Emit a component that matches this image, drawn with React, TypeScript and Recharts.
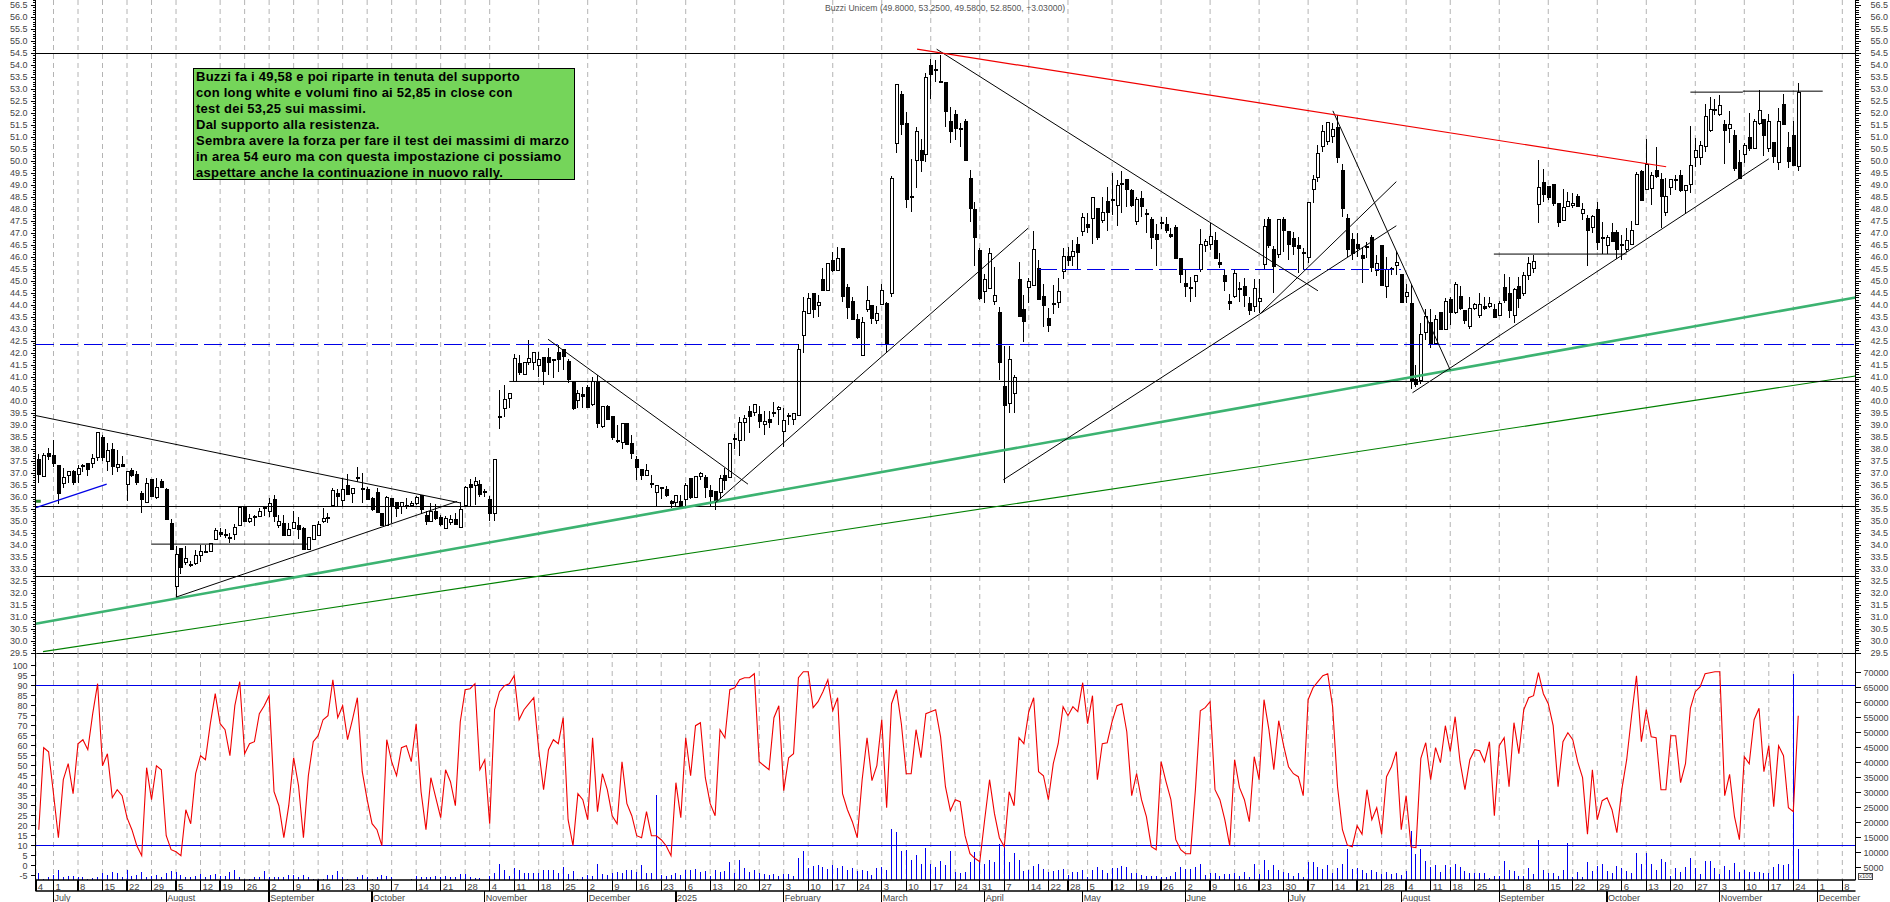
import { Bar, CartesianGrid, ComposedChart, Line, ReferenceLine, XAxis, YAxis } from "recharts";

const opens = [
  37.58,36.85,37.8,37.75,37.3,36.55,36.9,37.05,36.95,37.3,
  37.4,37.4,37.65,38.5,37.5,38,37.23,37.37,36.54,37.09,
  36.93,36.13,35.77,36.72,35.98,36.63,36.33,34.9,32.27,33.87,
  33.27,33.18,33.22,33.56,33.73,33.73,34.25,34.54,34.43,34.33,
  34.45,34.82,35.6,34.98,35.2,35.2,35.58,35.4,35.88,34.8,
  34.88,34.42,34.69,34.8,34.68,33.83,34.25,34.41,34.98,35.15,
  35.63,36.13,35.86,36.47,36.13,36.81,36.37,36.3,35.93,36.19,
  35.33,34.8,35.95,35.77,35.6,35.63,35.63,35.73,36.05,35.25,
  35,35.41,35.13,34.7,34.95,35.05,34.75,35.63,36.53,36.5,
  36.53,36.22,35.92,35.33,39.36,39.7,40.12,40.81,41.55,41.12,
  41.62,41.62,41.5,41.83,41.83,41.75,42.03,42.16,41.65,40.81,
  40.02,40.29,40.58,39.84,40.77,38.94,39.77,39.36,38.36,38.28,
  39.08,38.22,37.55,37.14,36.92,36.55,36.19,36.4,36.33,35.83,
  35.78,35.83,35.92,36.79,36,36.86,36.83,36.28,36.25,36.2,
  36.92,36.83,38.46,38.36,39.11,39.58,39.53,39.43,39.04,39.25,
  39.47,39.64,38.73,39.38,39.22,39.42,42.72,43.66,44.5,43.97,
  45.09,44.63,45.88,45.44,46.37,44.74,44.17,43.41,41.92,43.8,
  43.97,43.35,44.04,44.08,44.5,50.74,52.8,51.58,48.53,50.02,
  50.44,50.3,54,53.83,53.32,53.29,51.67,51.95,51.37,51.67,
  49.29,47.97,46.26,44.56,44.7,44.15,43.7,40.6,39.9,40.3,
  45.09,43.83,44.74,44.84,45.54,44.38,43.45,44.08,44.1,45.4,
  46.02,46.02,46.54,47.06,47.38,47.62,48.04,47.51,48.33,48.41,
  48.15,49.08,49.22,48.8,47.48,48.45,47.83,47.55,46.95,47.44,
  47.38,46.93,47.24,45.95,44.91,44.73,44.98,45.47,46.48,46.54,
  46.68,45.79,45.22,44.15,44.36,44.7,44.77,44.08,43.94,44.15,
  45.68,47.58,46.33,46.12,47.59,47.06,46.79,46.47,46.2,45.99,
  48.83,49.33,50.63,50.81,51.02,51.41,49.63,47.62,46.72,46.51,
  46.08,46.44,46.83,45.44,46.47,44.77,45.54,45.65,45.26,44.36,
  44.08,40.9,40.85,42.86,43.27,42.41,43.7,43,44.24,43.69,
  44.38,43.76,43.13,43.87,43.55,43.94,43.94,43.83,43.59,44.74,
  44.47,43.59,44.77,44.49,45.23,45.54,48.2,49.12,48.94,49.01,
  48.24,47.52,48.13,48.15,48.52,47.83,47.62,47.22,47.99,46.83,
  46.48,47.04,47.04,46.54,46.34,46.54,47.37,49.59,48.84,48.87,
  49.63,49.22,47.86,48.91,49.18,49.42,48.77,49.04,50.16,50.16,
  50.61,51.27,52.16,51.95,51.51,51.37,51.09,49.95,50.29,51,
  50.54,51.58,51.74,50.51,50.79,49.95,52.38,50.58,51.08,49.8,
];

const highs = [
  37.8,37.85,38.05,38.4,37.3,37.2,37.05,37.15,37.35,37.4,
  37.4,37.8,38.7,38.6,38.25,38.27,37.95,37.7,37.1,37.2,
  37.1,36.25,36.8,36.72,36.8,36.75,36.4,35.08,33.95,33.87,
  33.95,33.35,33.8,34,34,34.08,34.7,34.7,34.65,34.5,
  34.88,35.58,35.6,35.3,35.25,35.55,35.58,35.95,36.1,35.25,
  35.25,34.9,35.4,35.15,34.75,34.33,34.85,35,35.55,35.33,
  36.4,36.35,36.8,36.95,36.37,37.25,37,36.42,36,36.4,
  35.35,36.05,35.98,35.77,35.77,35.95,35.85,36.05,36.05,35.4,
  35.75,35.72,35.25,35.2,35.25,35.33,35.8,36.45,36.75,36.85,
  36.7,36.33,36.05,37.58,40.45,40.68,40.33,41.97,41.93,41.62,
  42.55,42.03,42.06,41.83,42.2,41.75,42.35,42.16,41.75,40.81,
  40.47,40.6,40.67,41.02,41.1,39.8,39.85,39.4,39,39.05,
  39.08,38.6,37.72,37.14,37.39,36.93,36.47,36.4,36.45,35.88,
  36.08,36.1,36.58,36.79,36.9,37.05,36.93,36.5,36.25,36.93,
  37.2,38.25,38.65,39.35,39.43,39.78,39.9,39.78,39.6,39.57,
  39.98,39.78,39.7,39.5,39.5,42.4,44.35,44.5,44.5,44.42,
  45.55,45.74,46.2,46.41,46.4,44.87,44.35,43.63,43.5,44.8,
  44,43.95,44.87,44.15,49.38,53.2,52.92,52.06,50.08,51.41,
  50.91,53.66,54.24,54.22,54.42,53.29,52.24,52.13,51.6,51.78,
  49.63,48.31,46.37,45.3,46.37,45.6,43.94,42.3,42.3,41.1,
  45.81,44.41,45.12,47.09,45.88,44.88,43.87,44.84,45.12,46.37,
  46.41,46.72,46.86,47.83,47.83,48.52,48.04,48.52,48.94,49.5,
  49.22,49.6,49.22,48.85,48.5,48.77,47.99,47.66,47.38,47.66,
  47.66,47.2,47.34,45.95,45.47,45.19,45.23,47.16,46.75,47.44,
  47.06,46.16,45.47,44.47,45.47,44.98,45.12,44.35,45.08,45.08,
  47.58,47.69,46.47,47.6,47.66,47.06,47.06,46.86,46.37,48.27,
  49.42,50.67,51.5,51.6,51.6,51.92,49.87,47.8,47,47,
  46.44,46.65,46.93,46.09,46.47,46.02,45.6,46.27,45.26,44.9,
  44.9,41.5,43.25,43.83,43.83,43.6,43.7,44.28,44.33,44.95,
  44.8,43.76,44.36,44.1,44.5,44.33,44.36,44.05,44.19,45.3,
  45.16,44.7,45.19,45.4,45.99,46.09,50.05,49.66,48.94,49.01,
  48.24,48.83,48.73,48.69,48.62,48.27,47.76,47.76,48.29,47.48,
  46.93,47.41,47.13,46.93,47.23,47.52,49.55,49.63,50.92,49.56,
  50.58,49.5,49.29,49.25,49.42,49.63,49,51.47,50.95,50.84,
  52.38,52.66,52.58,52.76,51.72,52.09,51.3,50.47,50.75,52,
  51.78,52.97,51.74,51.97,50.79,52.2,52.8,51.2,51.67,53.25,
];

const lows = [
  36.6,36.85,37.55,37.25,35.7,36.4,36.6,36.5,36.6,37.05,
  36.9,37.2,37.5,37.5,37.1,36.93,37.05,37.27,35.85,36.85,
  36.5,35.33,35.75,36,35.9,36.4,35.05,33.83,31.85,32.8,
  33.17,33.08,33.18,33.3,33.66,33.73,34.25,34.33,34.3,34.1,
  34.2,34.82,34.95,34.9,34.78,35.2,35.2,35.15,34.98,34.7,
  34.4,34.4,34.65,34.25,33.8,33.8,34.25,34.4,34.93,34.9,
  35.63,35.63,35.63,36.1,35.75,36.65,35.75,35.9,35.4,35.35,
  34.8,34.8,34.9,35.16,35.3,35.5,35.6,35.65,35.3,34.85,
  35,35.05,34.8,34.68,34.85,34.83,34.73,35.6,35.63,35.65,
  36.02,36.02,35.02,35.02,38.83,39.35,39.7,40.81,41.1,41.12,
  41.5,41.3,41,40.67,41.1,40.95,41.2,41.3,40.77,39.65,
  39.7,39.7,39.7,39.8,38.87,38.9,39.2,38.4,38.25,38,
  38.18,37.6,36.7,36.72,36.9,36.37,35.6,35.9,36,35.55,
  35.6,35.55,35.6,35.9,35.95,36.7,35.95,35.6,35.47,35.9,
  36.3,36.83,38,37.7,38.32,38.67,39.4,38.87,38.6,38.87,
  39.33,39,38.1,39,39,39.42,42,43.66,43.45,43.5,
  44.6,44.6,45.4,45.44,44.15,43.41,43.41,42.6,41.92,43.73,
  43.2,43.2,44,42.06,44.35,50.36,51.09,48.04,47.9,48.87,
  49.56,49.98,52.58,53.31,53.31,51.41,50.74,50.9,50.6,50.02,
  47.48,45.63,44.2,44.08,44.7,44,40.9,36.6,39.5,39.5,
  43.5,42.48,44.08,44.84,44.2,43.1,42.9,43.63,43.87,45.08,
  45.63,45.63,45.47,46.88,46.99,46.55,46.72,47.41,47.1,47.76,
  47.31,47.86,48.1,48.1,47.34,47.69,46.99,46.34,45.65,47.16,
  47.02,46.81,45.95,44.91,44.35,44.15,44.35,45.4,46.23,46.3,
  45.95,45.54,44.6,43.8,44.3,44.15,43.94,43.59,43.7,43.66,
  45.47,46.4,44.52,45.95,46.2,45.88,46.09,45.36,45.47,45.74,
  48.27,49.15,50.4,50.67,50.75,49.94,47.69,46.02,45.88,46,
  44.91,45.95,45.4,45.2,44.84,44.29,45.26,45.26,44.08,44.08,
  40.5,40.6,40.7,42.55,42.2,42.38,43,43,43.17,43.65,
  43.8,43.2,43.02,43.8,43.45,43.8,43.9,43.45,43.55,44.08,
  43.45,43.27,43.87,44.4,45.05,45.36,47.44,48.29,48.4,48.15,
  47.27,47.5,48.1,48.06,48.1,47.55,45.63,47,46.3,46.12,
  46.13,46.65,45.92,45.88,46.23,46.5,47.37,48.38,48.8,48.17,
  49.3,47.2,47.72,48.59,48.8,48.7,47.83,48.69,49.77,49.84,
  50.4,51.2,51.92,51.9,49.88,50.77,49.6,49.25,49.94,50.44,
  50.5,51.5,50.23,50.4,49.94,49.63,51.5,49.73,49.84,49.58,
];

const closes = [
  36.93,37.73,37.7,37.38,36.13,36.8,37.05,36.6,37.2,37.27,
  37.15,37.6,38.7,37.65,37.95,37.27,37.37,37.27,37.06,36.9,
  36.6,35.9,36.58,36.02,36.41,36.41,35.08,33.83,33.6,33.07,
  33.45,33.2,33.56,33.73,33.67,34.08,34.6,34.43,34.42,34.32,
  34.75,35.58,34.98,35.12,35.2,35.42,35.57,35.75,35.2,35,
  34.42,34.63,34.95,34.66,33.83,34.33,34.8,34.87,35.12,35.14,
  36.29,36.02,36.33,36.1,36.37,36.8,36.36,35.9,35.47,35.35,
  34.8,35.98,35.66,35.52,35.77,35.63,35.72,35.98,35.47,34.97,
  35.4,35.1,34.84,35.12,35.08,34.85,35.47,36.41,36.41,36.65,
  36.12,36.21,35.33,37.58,39.35,40.08,40.33,41.79,41.2,41.62,
  41.79,42.03,41.75,41.23,41.6,41.74,41.72,41.88,40.91,39.7,
  40.33,40.19,39.73,40.81,39.08,39.77,39.25,38.5,38.35,39.05,
  38.18,37.83,37.23,36.89,37.11,36.54,36.47,36.37,36.05,35.75,
  36.08,35.61,36.48,36,36.86,36.97,36.39,36.03,35.86,36.79,
  36.69,38.25,38.45,39.12,39.29,39.36,39.85,39.15,39.15,39.11,
  39.54,39.75,39.18,39.39,39.47,42.16,43.73,44.29,43.83,44.12,
  44.63,45.74,45.44,45.95,44.38,43.9,43.41,42.65,43.27,44.19,
  43.45,43.66,44.63,42.38,49.29,53.2,51.55,48.41,48.52,51.23,
  50.02,53.5,53.62,53.82,53.31,52.06,51.23,51.37,51.36,50.02,
  48.04,46.81,44.29,45.09,46.16,44.4,41.61,39.8,41.74,41,
  43.52,43.31,44.98,46.33,44.22,43.97,43.17,44.07,44.56,46.02,
  45.86,46.23,46.19,47.66,47.23,48.5,46.81,47.86,47.87,48.36,
  48.98,49.07,48.84,48.17,48.41,48.1,47.82,46.81,46.74,47.43,
  47.13,46.86,45.95,45.26,44.77,44.72,45.23,46.54,46.65,46.86,
  45.95,45.7,44.98,44.08,45.33,44.66,44.42,43.77,44.7,44.27,
  47.27,46.47,45.63,47.58,47.11,46.51,46.44,46.37,46.19,48.27,
  49.24,50.33,51.23,51.6,51.33,50.15,48.04,46.33,46.16,46.37,
  45.95,46.43,45.56,45.74,44.84,45.47,45.53,45.79,44.1,44.54,
  40.8,40.7,42.76,43.52,42.41,43.41,43,44.17,43.69,44.87,
  43.87,43.38,43.87,44.01,44.01,43.87,44.05,43.5,44.08,44.19,
  43.77,44.66,44.29,45.23,45.74,45.81,48.9,48.62,48.49,48.22,
  47.44,48.06,48.31,48.24,48.1,47.99,47.13,47.69,46.62,46.82,
  46.83,46.65,46.33,46.53,46.69,47.1,49.45,48.38,49.87,49.42,
  49.38,48.52,48.55,49.22,49.25,48.77,48.98,49.84,50.44,50.65,
  51.86,52.16,52.15,52.34,51.27,51.54,49.68,49.29,50.65,50.51,
  51.67,52.11,51.09,51.67,50.19,51.65,51.51,49.98,49.84,52.85,
];

const oscillator = [
  18,59,57,36,14,43,51,36,61,63,
  58,76,91,50,56,34,38,35,24,18,
  10,5,49,33,50,48,15,8,7,5,
  28,21,46,55,53,71,86,71,68,55,
  80,92,56,61,62,76,80,85,37,30,
  14,30,54,40,14,45,62,65,73,75,
  93,74,80,63,73,84,47,33,21,18,
  10,63,52,45,59,60,52,71,37,18,
  44,34,24,48,42,30,72,88,88.5,91,
  48,53,21,78,87,90,91,95,73,78,
  81,84,58,38,58,63,61,74,23,10,
  36,33,23,64,27,46,38,25,21,52,
  31,25,15,14,27,15,15,13,10,5,
  41.5,24,64,45,70,71.5,44,31,25,68,
  64,88,89,93,94,94,96,52,50,48,
  74,80,37.5,54,56,94,97,97,79,82,
  87,93,77.5,84,36,28,22,14,43,64,
  42.5,50,73,29,81,88,71,46,46,68,
  54,76,77,78,64.5,39.5,27.5,33,32,15,
  6,3.7,2,23,43,26,14,9.5,37,30,
  64,61,77,84,47,45,33,51,61,79.5,
  75,79.5,77,91.5,71,85,43,61,61.5,72,
  80,81,67,35,46,33,24.5,9.5,8,52,
  42,33,13,8,6,6,38,77.5,79,82,
  38,33,23,10,53,39,33,22,54.5,43,
  83,68,48,72.5,60,49.5,46,44.5,35,83,
  89,92,95,96,79.5,39.5,18,10.3,9.5,20,
  15.7,38,23,29,15.7,44.5,49.5,57,18,35,
  9.5,9,53.7,61.5,43,59,51.5,70,57,74.5,
  52,38,53,58,57.5,52,62,25,60,64,
  39.5,71.5,56,78,84,85,96.5,86,81,70,
  39.5,62,66.5,63,52,44,15.7,48,23,32.5,
  34,28,16.5,38,53,75,95,62,78,64.5,
  64,38,38,65,65,41.5,51,78.7,87,89.5,
  96,96.5,97,97,35,45.7,24.5,13,54.5,51,
  73,78.7,47,60,29.5,60,55,29,27,75,
];

const volumes = [
  3100,1400,1800,2600,4400,1800,2200,2200,1800,1800,
  1400,1600,2000,3100,2600,3600,3100,2000,4400,2200,
  2600,3600,2000,2200,2600,2000,3300,3900,3600,2600,
  2000,2000,2400,2800,2000,2600,2900,2200,2200,3600,
  4200,2000,1100,1100,2000,2000,3900,2000,2000,2000,
  2000,2600,2600,2000,2600,1800,1400,1400,1100,2600,
  2600,3900,2000,1100,900,2000,2600,2000,1400,2000,
  2600,2200,2000,300,300,300,1100,2200,2000,1800,
  2000,2200,2000,2200,1800,2000,2900,2900,2000,1700,
  1700,900,2200,3300,6200,4200,2200,5000,4400,3300,
  3300,3300,3300,4200,4200,4200,3300,5300,2900,3900,
  1300,2000,2600,2200,6200,2900,2600,3300,3600,3100,
  4200,4200,3700,5900,3300,3300,29200,2600,2200,2600,
  3300,2600,4200,4200,4700,3600,3900,2200,4200,3600,
  3900,6900,3300,7500,4900,3600,4200,3300,2900,2600,
  2900,2200,2900,2900,2200,8200,10500,4900,5500,5900,
  5300,4500,5900,4900,5500,4200,4900,3900,4200,3900,
  2600,4900,5300,4200,17900,16900,10500,10900,7500,9200,
  6400,11500,6200,5300,7300,5900,10500,3600,3100,3600,
  6900,10200,7200,6200,7500,6900,12900,12000,6900,9800,
  7500,3900,4400,5500,6400,4500,3600,3900,4200,4500,
  2600,3600,3600,4200,2000,4200,5300,4200,3300,4900,
  4900,5500,5300,3100,3100,2600,2300,2400,2200,1800,
  2000,2400,3600,5300,4700,4700,5100,6200,2600,3300,
  3300,2400,2900,2800,3100,2200,3600,2000,6400,2900,
  7500,4200,5900,4400,3700,3300,2200,3400,2000,6900,
  6900,5100,4700,5800,3100,4900,6400,11100,4700,4900,
  4200,3100,4200,3600,3000,3600,3000,3100,2600,4000,
  17300,9600,11400,7300,5300,5900,3600,5800,5100,6400,
  5100,3900,3100,3300,3300,3100,1600,2200,2300,7300,
  4200,3900,2400,2200,4900,2900,14200,4200,3100,3100,
  2400,4200,13100,1900,3600,1900,6900,3900,5500,6200,
  3900,3100,5500,4900,3900,3100,9800,6400,9800,6200,
  4200,7800,6900,2400,4900,3600,5200,8400,4900,2900,
  7400,7200,4900,2900,5500,4400,6600,3600,4200,3600,
  3600,3600,3200,3300,5200,6400,5900,6400,69600,11200,
];

// bar index of each weekly gridline and its day label
const weekTicks = [
  -0.6,3,8,13,18,23,28,33,37,42,47,52,57,62,67,72,77,82,87,92,97,102,107,112,117,122,127,
  132,137,142,147,152,157,162,167,172,177,182,187,192,197,202,206,210,214,219,224,229,234,
  239,244,249,254,259,264,269,274,279,284,288,293,298,303,308,313,318,323,328,333,338,343,
  348,353,358,363,368,
];
const weekLabels = [
  "4","1","8","15","22","29","5","12","19","26","2","9","16","23","30","7","14","21","28","4","11","18","25","2","9","16","23",
  "6","13","20","27","3","10","17","24","3","10","17","24","31","7","14","22","28","5","12","19","26","2",
  "9","16","23","30","7","14","21","28","4","11","18","25","1","8","15","22","29","6","13","20","27","3",
  "10","17","24","1","8",
];
const monthTicks = [3,26,47,68,91,112,130,152,172,193,213,234,255,278,298,320,343,363];
const monthLabels = ["July","August","September","October","November","December","2025","February","March","April","May","June","July","August","September","October","November","December"];

const priceTicks = Array.from({ length: 273 }, (_, k) => +(29.5 + k * 0.1).toFixed(1));
const oscTicks = [100,95,90,85,80,75,70,65,60,55,50,45,40,35,30,25,20,15,10,5,0,-5];
const volumeTicks = [70000,65000,60000,55000,50000,45000,40000,35000,30000,25000,20000,15000,10000,5000];

const levels = [54.5, 35.62, 32.68, 29.5];
const dashedLevel = 42.38;
// [bar, price, bar, price]
const blackTrends = [
  [-0.67,39.4,85.95,35.76],
  [28,31.83,85.35,35.82],
  [23,34.04,54.8,34.04],
  [96,40.82,370.6,40.82],
  [103.9,42.58,144.7,36.54],
  [137.97,35.75,201.87,47.21],
  [183.2,54.67,261,44.6],
  [196.8,36.72,277,47.31],
  [249.2,43.64,277,49.15],
  [264.05,52.1,288,41.3],
  [280.3,40.35,353,50.1],
  [296.9,46.13,324,46.13],
  [337,52.88,347.7,52.88],
  [347.7,52.92,364,52.92],
];
const blueTrend = [-0.57,35.56,13.85,36.54];
const dashedTrend = [204,45.5,278,45.5];
const redTrend = [179.2,54.67,332.06,49.77];
const greenThick = [-0.67,30.72,370.69,44.32];
const greenThin = [0.86,29.56,370.69,41.05];
const greenMark = [-0.6,35.83,0.4,35.83];

const noteLines = [
  "Buzzi fa i 49,58 e poi riparte in tenuta del supporto",
  "con long white e volumi fino ai 52,85 in close con",
  "test dei 53,25 sui massimi.",
  "Dal supporto alla resistenza.",
  "Sembra avere la forza per fare il test dei massimi di marzo",
  "in area 54 euro ma con questa impostazione ci possiamo",
  "aspettare anche la continuazione in nuovo rally.",
];

const candles = opens.map((o, i) => ({ i, o, c: closes[i], h: highs[i], l: lows[i], range: [lows[i], highs[i]] }));
const lower = opens.map((_, i) => ({ i, osc: oscillator[i], vol: volumes[i] }));

const FONT = "'Liberation Sans', Arial, sans-serif";
const xDomain = [-0.673, 370.69];
const W = 1890;
const AXIS_L = 35.5;
const AXIS_R = 34.5;

function Candle(props: any) {
  const { x, y, width, height, payload } = props;
  const { o, c, h, l } = payload;
  const cx = Math.round(x + width / 2) + 0.5;
  const k = height / Math.max(h - l, 0.001);
  const top = y + (h - Math.max(o, c)) * k;
  const bot = y + (h - Math.min(o, c)) * k;
  const up = c >= o;
  return (
    <g shapeRendering="crispEdges">
      <line x1={cx} x2={cx} y1={y} y2={y + height} stroke="#000" strokeWidth={1} />
      <rect x={cx - 1.5} width={3} y={top} height={Math.max(bot - top, 1)} fill={up ? "#fff" : "#000"} stroke="#000" strokeWidth={1} />
    </g>
  );
}

function VolumeBar(props: any) {
  const { x, y, width, height } = props;
  return <rect x={Math.round(x + width / 2)} y={y} width={1} height={height} fill="#0000f0" shapeRendering="crispEdges" />;
}

function axisTick(labelX: number, anchor: "start" | "end", dir: number, labelled: (v: number) => boolean, fmt: (v: number) => string) {
  return (props: any) => {
    const { x, y, payload } = props;
    const v = payload.value;
    const major = labelled(v);
    const len = major ? 5 : 3;
    return (
      <g>
        <line x1={x} x2={x + dir * len} y1={y} y2={y} stroke="#000" strokeWidth={1} shapeRendering="crispEdges" />
        {major && (
          <text x={x + labelX} y={y + 3} textAnchor={anchor} fontFamily={FONT} fontSize={9} fill="#444">
            {fmt(v)}
          </text>
        )}
      </g>
    );
  };
}

const isHalf = (v: number) => Math.abs(v * 2 - Math.round(v * 2)) < 1e-6;
const leftPriceTick = axisTick(-8, "end", -1, isHalf, (v) => v.toFixed(1));
const rightPriceTick = axisTick(15, "start", 1, isHalf, (v) => v.toFixed(1));
const leftOscTick = axisTick(-8, "end", -1, () => true, (v) => String(v));
const rightVolTick = axisTick(8, "start", 1, () => true, (v) => String(v));

function WeekTick(props: any) {
  const { x, y, payload } = props;
  const idx = weekTicks.indexOf(payload.value);
  return (
    <g>
      <line x1={x} x2={x} y1={y} y2={y + 11} stroke="#000" strokeWidth={1.3} shapeRendering="crispEdges" />
      <text x={x + 2} y={y + 9.5} fontFamily={FONT} fontSize={9.5} fill="#444">{weekLabels[idx]}</text>
    </g>
  );
}

function MonthTick(props: any) {
  const { x, y, payload } = props;
  const idx = monthTicks.indexOf(payload.value);
  return (
    <g>
      <line x1={x} x2={x} y1={y} y2={y + 11} stroke="#000" strokeWidth={1.3} shapeRendering="crispEdges" />
      <text x={x + 1} y={y + 9.5} fontFamily={FONT} fontSize={9} fill="#444">{monthLabels[idx]}</text>
    </g>
  );
}

function segment(t: number[]) {
  return [{ x: t[0], y: t[1] }, { x: t[2], y: t[3] }] as any;
}

export default function App() {
  return (
    <div style={{ position: "absolute", left: 0, top: 0, width: W, height: 902, background: "#fff", overflow: "hidden" }}>
      <div style={{ position: "absolute", left: 0, top: 0 }}>
        <ComposedChart width={W} height={662} data={candles} margin={{ top: 0, right: 0, bottom: 8, left: 0 }}>
          <CartesianGrid horizontal={false} verticalValues={weekTicks} stroke="#b4b4b4" strokeDasharray="5 4" />
          <XAxis dataKey="i" type="number" domain={xDomain} hide allowDataOverflow />
          <YAxis
            yAxisId="left"
            width={AXIS_L}
            domain={[29.46, 56.72]}
            ticks={priceTicks}
            interval={0}
            tick={leftPriceTick}
            tickSize={0}
            tickMargin={0}
            tickLine={false}
            axisLine={{ stroke: "#000" }}
            allowDataOverflow
          />
          <YAxis
            yAxisId="right"
            orientation="right"
            width={AXIS_R}
            domain={[29.46, 56.72]}
            ticks={priceTicks}
            interval={0}
            tick={rightPriceTick}
            tickSize={0}
            tickMargin={0}
            tickLine={false}
            axisLine={{ stroke: "#000" }}
            allowDataOverflow
          />
          {levels.map((v) => (
            <ReferenceLine key={v} yAxisId="left" y={v} stroke="#000" strokeWidth={1} shapeRendering="crispEdges" />
          ))}
          <ReferenceLine yAxisId="left" y={dashedLevel} stroke="#0000e6" strokeWidth={1} strokeDasharray="18 6" shapeRendering="crispEdges" />
          <ReferenceLine yAxisId="left" segment={segment(dashedTrend)} stroke="#0000e6" strokeWidth={1} strokeDasharray="18 6" shapeRendering="crispEdges" ifOverflow="hidden" />
          <ReferenceLine yAxisId="left" segment={segment(greenThick)} stroke="#3cb371" strokeWidth={2.6} ifOverflow="hidden" />
          <ReferenceLine yAxisId="left" segment={segment(greenThin)} stroke="#008000" strokeWidth={1.1} ifOverflow="hidden" />
          <Bar yAxisId="left" dataKey="range" barSize={4} shape={Candle} isAnimationActive={false} />
          {blackTrends.map((t) => (
            <ReferenceLine key={t.join()} yAxisId="left" segment={segment(t)} stroke="#000" strokeWidth={1} ifOverflow="hidden" />
          ))}
          <ReferenceLine yAxisId="left" segment={segment(redTrend)} stroke="#f00000" strokeWidth={1.2} ifOverflow="hidden" />
          <ReferenceLine yAxisId="left" segment={segment(blueTrend)} stroke="#0000e6" strokeWidth={1.2} ifOverflow="hidden" />
          <ReferenceLine yAxisId="left" segment={segment(greenMark)} stroke="#2e8b2e" strokeWidth={3} ifOverflow="hidden" />
        </ComposedChart>
      </div>

      <div style={{ position: "absolute", left: 0, top: 653 }}>
        <ComposedChart width={W} height={249} data={lower} margin={{ top: 0, right: 0, bottom: 0, left: 0 }}>
          <CartesianGrid horizontal={false} verticalValues={weekTicks} stroke="#b4b4b4" strokeDasharray="5 4" />
          <XAxis
            dataKey="i"
            type="number"
            domain={xDomain}
            ticks={weekTicks}
            interval={0}
            height={11}
            tick={WeekTick}
            tickSize={0}
            tickMargin={0}
            tickLine={false}
            axisLine={{ stroke: "#000", strokeWidth: 1.4 }}
            allowDataOverflow
          />
          <XAxis
            xAxisId="month"
            dataKey="i"
            type="number"
            domain={xDomain}
            ticks={monthTicks}
            interval={0}
            height={11}
            tick={MonthTick}
            tickSize={0}
            tickMargin={0}
            tickLine={false}
            axisLine={{ stroke: "#000", strokeWidth: 1.4 }}
            allowDataOverflow
          />
          <YAxis
            yAxisId="osc"
            width={AXIS_L}
            domain={[-7.15, 106.35]}
            ticks={oscTicks}
            interval={0}
            tick={leftOscTick}
            tickSize={0}
            tickMargin={0}
            tickLine={false}
            axisLine={{ stroke: "#000" }}
            allowDataOverflow
          />
          <YAxis
            yAxisId="vol"
            orientation="right"
            width={AXIS_R}
            domain={[900, 76567]}
            ticks={volumeTicks}
            interval={0}
            tick={rightVolTick}
            tickSize={0}
            tickMargin={0}
            tickLine={false}
            axisLine={{ stroke: "#000" }}
            allowDataOverflow
          />
          <Bar yAxisId="vol" dataKey="vol" barSize={2} shape={VolumeBar} isAnimationActive={false} />
          <ReferenceLine yAxisId="osc" y={90} stroke="#0000e6" strokeWidth={1} shapeRendering="crispEdges" />
          <ReferenceLine yAxisId="osc" y={10} stroke="#0000e6" strokeWidth={1} shapeRendering="crispEdges" />
          <Line yAxisId="osc" dataKey="osc" type="linear" stroke="#f00000" strokeWidth={1.1} dot={false} isAnimationActive={false} />
        </ComposedChart>
      </div>

      <div
        style={{
          position: "absolute",
          left: 193,
          top: 68,
          width: 382,
          height: 112,
          boxSizing: "border-box",
          border: "1px solid #000",
          background: "#75d55a",
          color: "#000",
          fontFamily: FONT,
          fontWeight: "bold",
          fontSize: 13,
          lineHeight: "16px",
          letterSpacing: 0.25,
          padding: "0 0 0 2px",
          whiteSpace: "pre",
        }}
      >
        {noteLines.map((t) => (
          <div key={t}>{t}</div>
        ))}
      </div>

      <div
        style={{
          position: "absolute",
          left: 825,
          top: 3,
          fontFamily: FONT,
          fontSize: 8.6,
          lineHeight: "10px",
          color: "#555",
          whiteSpace: "pre",
        }}
      >
        Buzzi Unicem (49.8000, 53.2500, 49.5800, 52.8500, +3.03000)
      </div>

      <div
        style={{
          position: "absolute",
          left: 1858,
          top: 873,
          width: 15,
          height: 7,
          boxSizing: "border-box",
          border: "1px solid #444",
          fontFamily: FONT,
          fontSize: 6,
          lineHeight: "5px",
          color: "#444",
          background: "#fff",
          textAlign: "center",
        }}
      >
        x100
      </div>
    </div>
  );
}
